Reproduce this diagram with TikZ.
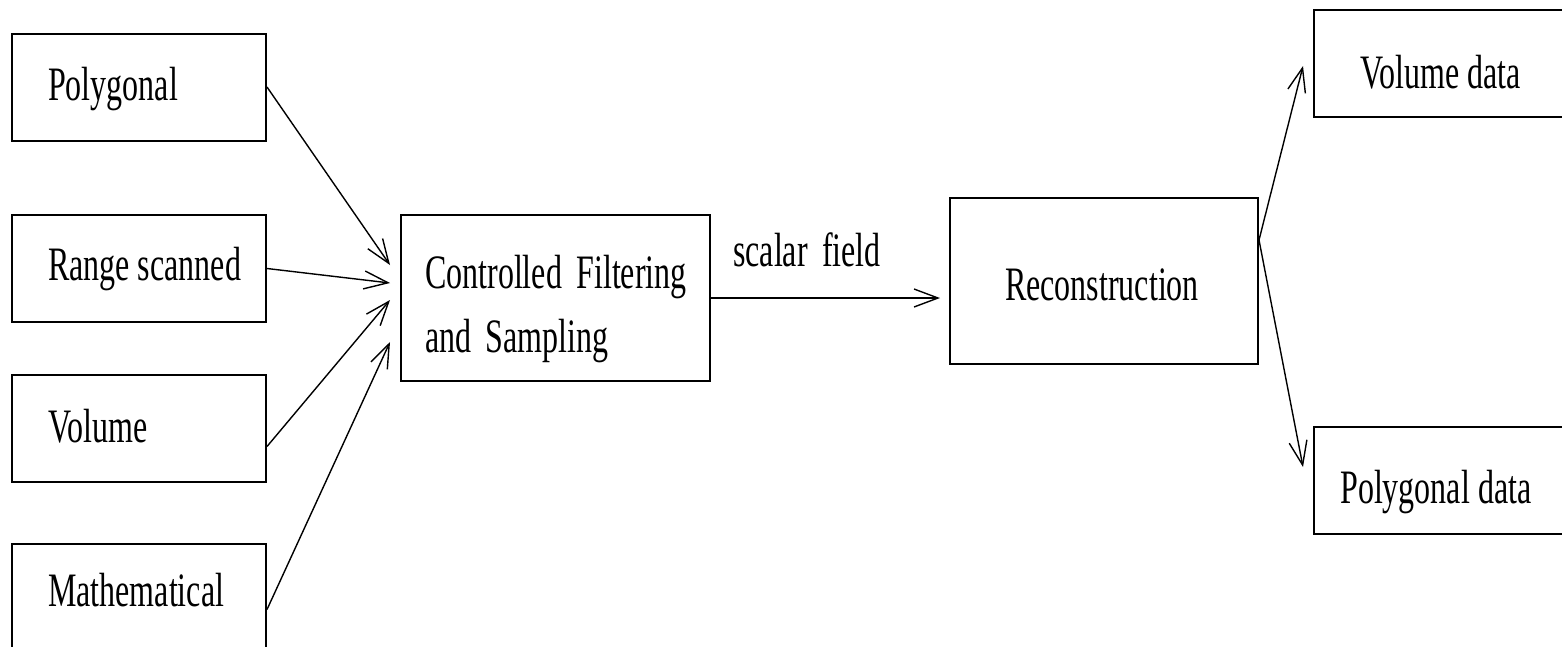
\documentclass[tikz,border=0pt]{standalone}
\usepackage{fontspec}
\setmainfont{Liberation Serif}
\usetikzlibrary{arrows.meta,calc}
\newcommand\tallt[1]{\scalebox{1}[1.5]{#1}}
\tikzset{
  box/.style={draw, line width=2pt, inner sep=0pt, minimum width=254pt, minimum height=107pt},
  bigbox/.style={draw, line width=2pt, inner sep=0pt, minimum width=309pt, minimum height=166pt},
  lbl/.style={anchor=base west, inner sep=0pt, font=\fontsize{32}{38}\selectfont},
  conn/.style={line width=1.4pt, -{Straight Barb[length=24pt,width=18pt,line width=1.4pt]}}
}
\begin{document}
\begin{tikzpicture}[x=1pt,y=-1pt]
\useasboundingbox (0,0) rectangle (1562,646);
\clip (0,0) rectangle (1562,646);
\fill[white] (0,0) rectangle (1562,646);
% boxes
\node[box] (poly) at (139,87) {};
\node[box] (range) at (139,268.5) {};
\node[box] (vol) at (139,428.5) {};
\node[box] (math) at (139,597.5) {};
\node[bigbox] (ctrl) at (555.5,298) {};
\node[bigbox, minimum width=308pt] (recon) at (1104,281) {};
\node[box, minimum width=252pt] (vdata) at (1440,63.5) {};
\node[box, minimum width=252pt] (pdata) at (1440,480.5) {};
% texts
\node[lbl] (tpoly) at (48,100) {\tallt{Polygonal}};
\node[lbl] (trange) at (48,280) {\tallt{Range scanned}};
\node[lbl] (tvol) at (48,442) {\tallt{Volume}};
\node[lbl] (tmath) at (48,606) {\tallt{Mathematical}};
\node[lbl] (tctrlA) at (425,288) {\tallt{Controlled\hspace{0.45em}Filtering}};
\node[lbl] (tctrlB) at (425,352) {\tallt{and\hspace{0.45em}Sampling}};
\node[lbl] (tscal) at (733,266) {\tallt{scalar\hspace{0.45em}field}};
\node[lbl] (trecon) at (1005,300) {\tallt{Reconstruction}};
\node[lbl] (tvdata) at (1360,88) {\tallt{Volume data}};
\node[lbl] (tpdata) at (1340,503) {\tallt{Polygonal data}};
% targets
\coordinate (t1) at (390,265);
\coordinate (t2) at (390,283);
\coordinate (t3) at (390,300);
\coordinate (t4) at (390,342);
\coordinate (t5) at (940,298);
\coordinate (t6) at (1303,66);
\coordinate (t7) at (1303,467);
\coordinate (s3) at ($(vol.east)+(0,18)$);
\coordinate (s4) at ($(math.east)+(0,12)$);
\coordinate (s6) at ($(recon.east)+(0,-41)$);
% connectors
\draw[conn] (poly.east) -- (t1);
\draw[conn] (range.east) -- (t2);
\draw[conn] (s3) -- (t3);
\draw[conn] (s4) -- (t4);
\draw[conn] (ctrl.east) -- (t5);
\draw[conn] (s6) -- (t6);
\draw[conn] (s6) -- (t7);
\end{tikzpicture}
\end{document}
